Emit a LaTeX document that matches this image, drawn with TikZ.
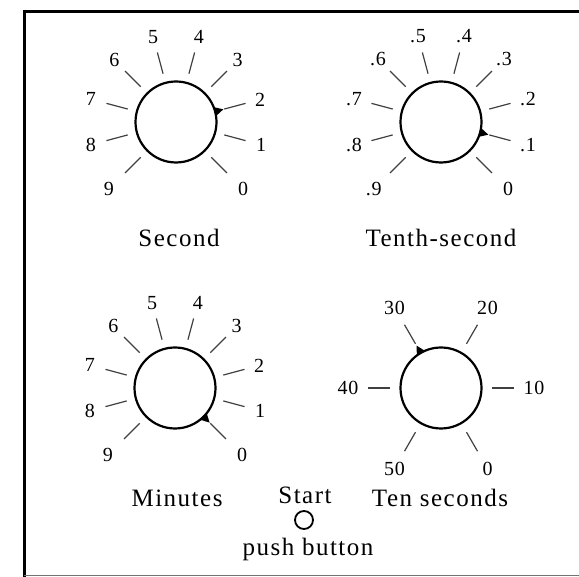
\documentclass[tikz,border=0pt]{standalone}
\usepackage{fontspec}
\setmainfont{Liberation Serif}
\newfontfamily\capfont[LetterSpace=6]{Liberation Serif}
\newfontfamily\numfont[LetterSpace=4]{Liberation Serif}
\begin{document}
\begin{tikzpicture}[x=1pt,y=1pt,
  tickline/.style={line width=1.2pt, black!75},
  dial/.style={circle, draw, line width=2.2pt, minimum size=81pt, inner sep=0pt},
  num/.style={font=\numfont\fontsize{20}{20}\selectfont, inner sep=0pt},
  captext/.style={font=\capfont\fontsize{25}{25}\selectfont, inner sep=0pt},
  pointer/.style={fill=black}]
\useasboundingbox (0,0) rectangle (579,577);
\begin{scope}
  \clip (0,0) rectangle (579,577);
  \draw[line width=3pt] (600,565) -- (24,565) -- (24,-5);
  \draw[line width=1pt, black!55] (24,1) -- (600,1);
\end{scope}

% Second dial
\node[dial] (ds) at (176,455) {};
\foreach \a/\t/\r [count=\i] in {-45/0/95,-15/1/88,15/2/87,45/3/87,75/4/88,105/5/88,135/6/87,165/7/88,195/8/88,225/9/95}{
  \draw[tickline] ([shift={(\a:50)}]ds.center) -- ([shift={(\a:72)}]ds.center);
  \node[num] (dsl\i) at ([shift={(\a:\r)}]ds.center) {\t};
}
\fill[pointer] ([shift={(15:49)}]ds.center) -- ([shift={(22:40)}]ds.center) -- ([shift={(8:40)}]ds.center) -- cycle;
\node[captext] (cs) at (179,339) {Second};

% Tenth-second dial
\node[dial] (dt) at (441,455) {};
\foreach \a/\t/\r [count=\i] in {-45/0/95,-15/.1/90,15/.2/90,45/.3/89,75/.4/89,105/.5/89,135/.6/89,165/.7/90,195/.8/90,225/.9/95}{
  \draw[tickline] ([shift={(\a:50)}]dt.center) -- ([shift={(\a:72)}]dt.center);
  \node[num] (dtl\i) at ([shift={(\a:\r)}]dt.center) {\t};
}
\fill[pointer] ([shift={(-15:49)}]dt.center) -- ([shift={(-8:40)}]dt.center) -- ([shift={(-22:40)}]dt.center) -- cycle;
\node[captext] (ct) at (441,339) {Tenth-second};

% Minutes dial
\node[dial] (dm) at (175,189) {};
\foreach \a/\t/\r [count=\i] in {-45/0/95,-15/1/88,15/2/87,45/3/87,75/4/88,105/5/88,135/6/87,165/7/88,195/8/88,225/9/95}{
  \draw[tickline] ([shift={(\a:50)}]dm.center) -- ([shift={(\a:72)}]dm.center);
  \node[num] (dml\i) at ([shift={(\a:\r)}]dm.center) {\t};
}
\fill[pointer] ([shift={(-45:49)}]dm.center) -- ([shift={(-38:40)}]dm.center) -- ([shift={(-52:40)}]dm.center) -- cycle;
\node[captext] (cm) at (177,79) {Minutes};

% Ten seconds dial
\node[dial] (dx) at (441,189) {};
\foreach \a/\t [count=\i] in {-60/0,0/10,60/20,120/30,180/40,240/50}{
  \draw[tickline] ([shift={(\a:51)}]dx.center) -- ([shift={(\a:73)}]dx.center);
  \node[num] (dxl\i) at ([shift={(\a:93)}]dx.center) {\t};
}
\fill[pointer] ([shift={(120:49)}]dx.center) -- ([shift={(127:40)}]dx.center) -- ([shift={(113:40)}]dx.center) -- cycle;
\node[captext] (cx) at (440,79) {Ten seconds};

% Start push button
\node[captext] (st) at (305,82) {Start};
\node[circle, draw, line width=1.8pt, minimum size=18pt, inner sep=0pt] (pb) at (304,57) {};
\node[captext] (pbl) at (308,28) {push button};
\end{tikzpicture}
\end{document}
